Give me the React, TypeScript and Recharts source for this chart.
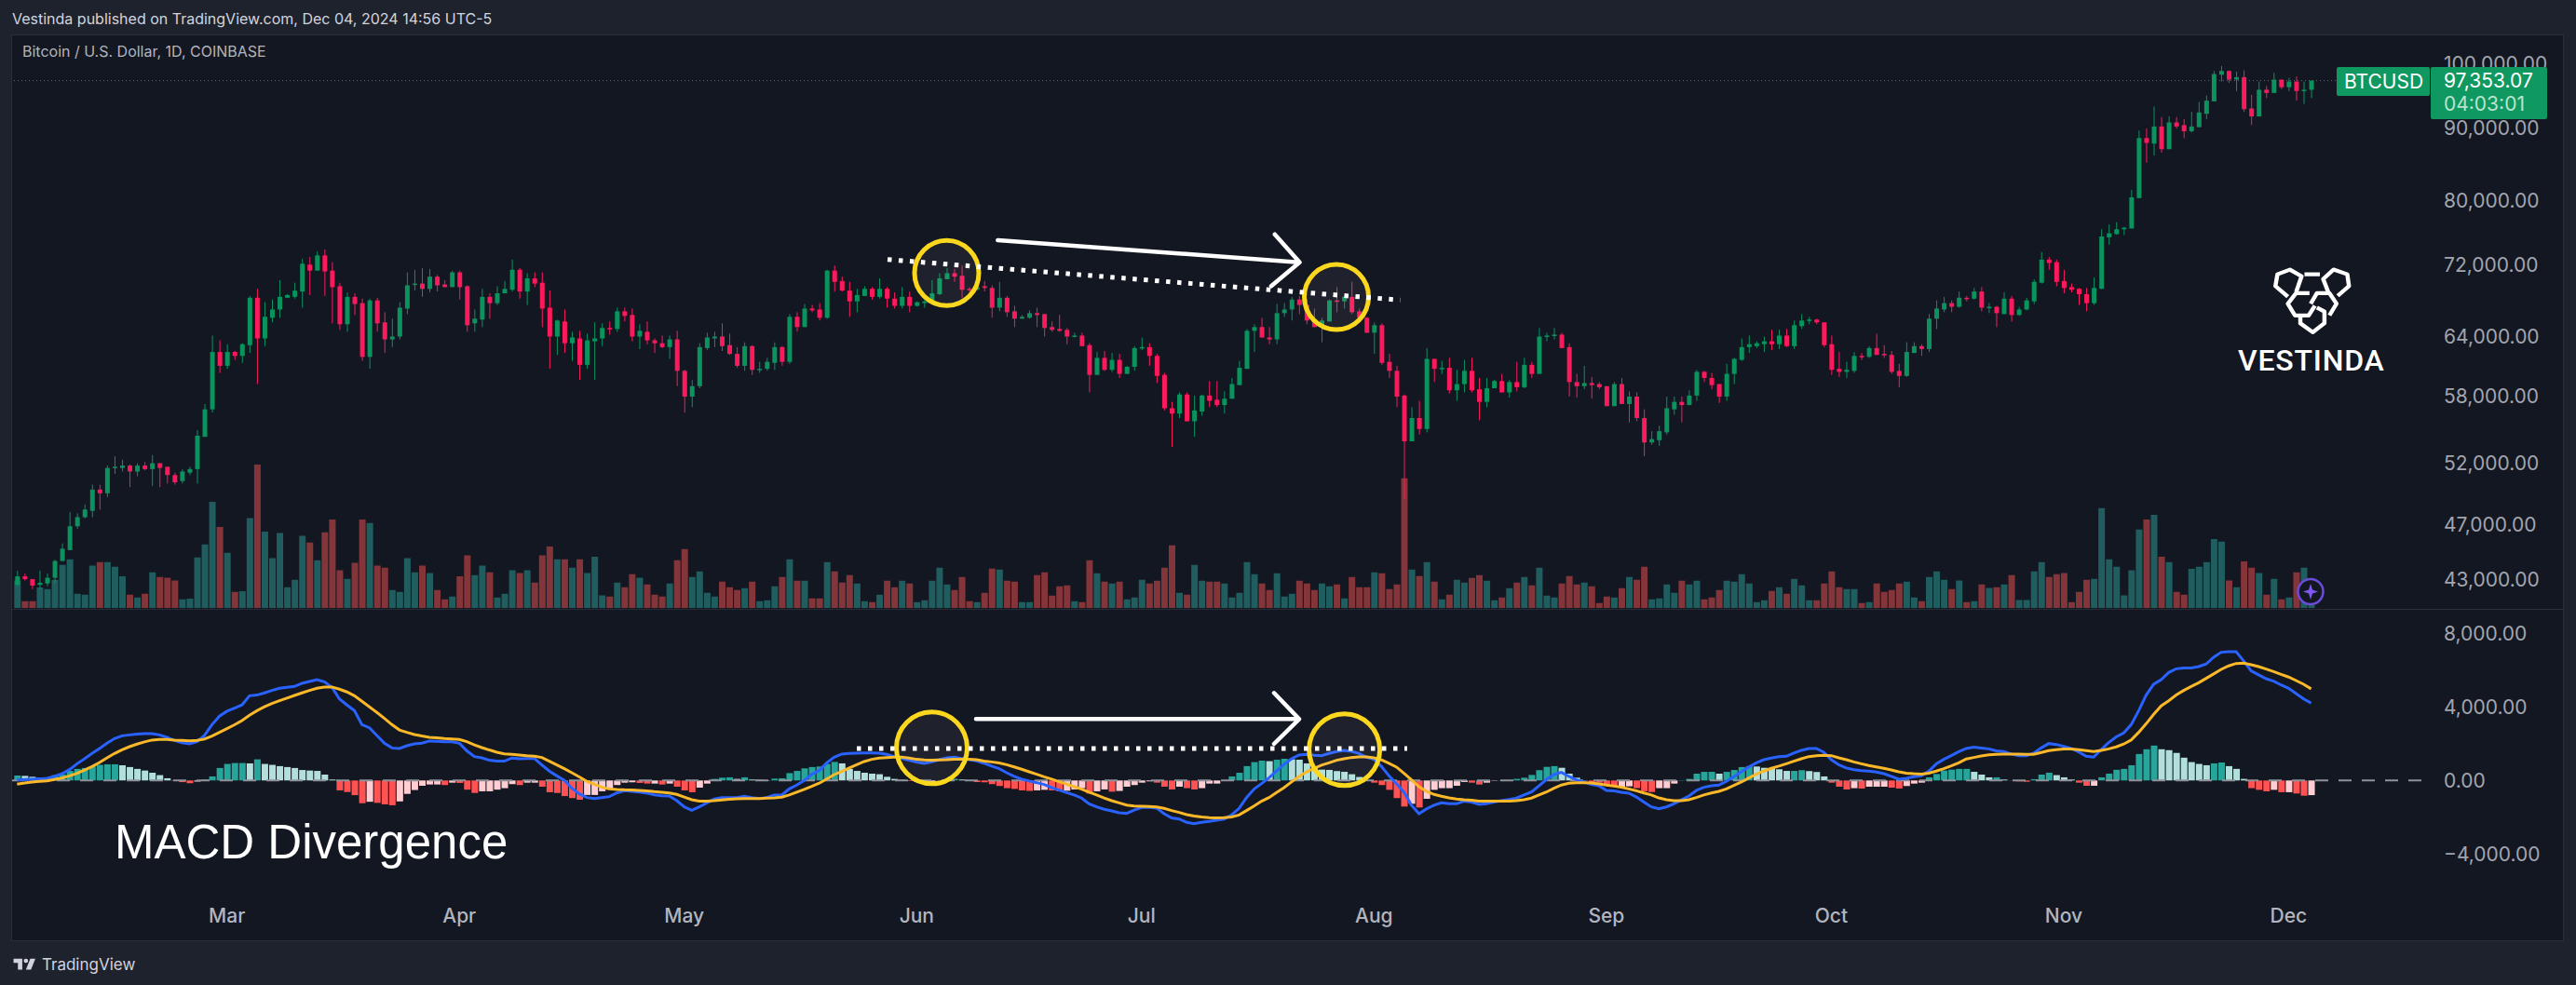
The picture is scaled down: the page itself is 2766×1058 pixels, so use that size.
import { Bar, Cell, ComposedChart, Line, ReferenceLine, XAxis, YAxis } from "recharts";

// prices in thousands of USD, one entry per day from Feb 2 to Dec 4 2024
const opens = [
  42.6,43.2,43.0,42.6,42.7,43.1,44.3,45.1,46.9,47.6,
  48.1,49.8,49.5,51.6,51.6,51.8,51.3,51.8,51.5,52.0,
  51.7,51.0,50.5,51.2,51.5,54.3,56.8,62.4,61.0,62.4,
  62.0,63.1,68.2,63.8,66.0,66.9,68.2,68.3,68.9,72.0,
  71.3,73.1,71.3,69.5,65.3,68.3,67.6,61.9,67.9,65.5,
  63.7,64.0,67.0,69.7,69.8,69.2,70.6,69.7,69.4,71.1,
  69.5,65.4,65.8,68.3,67.6,68.7,69.1,71.4,68.9,70.4,
  69.9,67.1,64.0,65.6,63.3,63.8,61.1,63.5,63.8,64.9,
  64.8,66.7,66.3,64.0,64.5,63.6,63.3,62.9,63.7,60.5,
  58.0,59.0,62.8,63.8,64.0,63.1,62.2,61.0,63.0,60.6,
  60.7,61.3,62.9,61.4,66.1,65.0,67.0,66.9,66.0,71.3,
  70.1,69.0,67.8,68.4,69.2,68.3,69.2,68.1,67.3,68.3,
  67.3,67.6,67.7,68.6,70.3,71.0,70.7,69.2,69.1,69.5,
  69.3,67.1,68.2,66.7,65.9,66.0,66.5,66.4,65.0,64.8,
  64.7,64.0,64.1,63.1,60.1,61.8,60.6,61.6,60.2,60.9,
  62.8,62.9,62.0,60.1,56.9,56.4,58.2,55.7,56.6,58.1,
  57.7,57.2,57.8,59.1,60.7,64.6,65.0,63.9,63.7,66.5,
  66.9,68.0,67.4,65.7,65.0,65.6,67.9,67.8,68.3,66.7,
  66.0,64.4,65.2,61.4,60.5,58.1,53.9,56.0,55.0,61.7,
  60.7,60.8,58.6,59.2,60.5,58.7,57.5,58.8,59.5,58.4,
  59.4,58.9,61.1,60.2,64.0,64.1,64.2,62.9,59.4,59.0,
  59.3,59.2,59.0,57.1,59.2,57.3,58.0,56.0,53.8,54.0,
  54.7,56.8,57.5,57.2,58.1,60.4,59.8,59.2,58.0,60.2,
  61.6,62.9,63.0,63.2,63.5,63.2,64.1,63.0,65.1,65.7,
  65.8,65.5,63.2,60.7,60.4,60.5,62.0,61.9,62.8,62.2,
  62.1,60.5,60.0,62.3,63.0,62.7,65.9,66.9,67.6,67.2,
  68.2,68.1,68.9,67.1,67.2,66.4,68.1,66.3,66.9,67.8,
  69.9,72.6,72.3,70.1,69.4,69.2,68.6,67.6,69.2,75.3,
  75.7,76.3,76.4,80.3,88.6,87.8,90.3,87.0,90.9,90.5,
  89.6,90.2,92.2,94.1,98.3,98.9,97.5,97.9,93.0,91.8,
  95.9,95.4,97.5,96.3,97.2,95.7,95.9,
];
const closes = [
  43.2,43.0,42.55,42.75,43.1,44.3,45.2,46.9,47.6,48.2,
  49.8,49.5,51.6,51.7,51.8,51.3,51.8,51.5,52.0,51.6,
  51.0,50.4,51.3,51.5,54.4,56.8,62.4,61.0,62.4,62.0,
  63.2,68.2,63.8,66.1,66.9,68.3,68.5,69.0,72.1,71.3,
  73.1,71.2,69.4,65.3,68.3,67.5,61.9,67.9,65.4,63.7,
  64.0,67.1,69.6,69.8,69.2,70.6,69.6,69.4,71.1,69.4,
  65.2,65.9,68.3,67.6,68.7,69.2,71.4,68.9,70.4,69.8,
  67.0,64.0,65.7,63.3,63.9,61.1,63.6,63.8,64.9,64.8,
  66.7,66.2,64.0,64.6,63.6,63.3,62.9,63.7,60.5,58.0,
  59.0,62.9,63.9,64.0,63.0,62.2,61.0,63.0,60.6,60.7,
  61.4,62.9,61.4,66.1,65.0,67.0,66.8,66.0,71.3,70.0,
  69.0,67.8,68.5,69.2,68.3,69.2,68.1,67.3,68.3,67.3,
  67.7,67.8,68.7,70.4,71.0,70.6,69.1,69.1,69.4,69.3,
  67.1,68.2,66.6,65.9,66.1,66.5,66.3,64.9,64.7,64.6,
  64.0,64.1,63.0,60.1,61.8,60.6,61.6,60.2,60.9,62.8,
  62.9,62.0,60.0,56.9,56.4,58.2,55.7,56.7,58.1,57.6,
  57.2,57.8,59.2,60.8,64.6,65.0,63.9,63.7,66.5,66.9,
  68.0,67.4,65.7,65.0,65.7,67.9,67.8,68.3,66.6,66.0,
  64.4,65.2,61.3,60.5,58.0,53.9,56.0,55.0,61.7,60.7,
  60.8,58.6,59.2,60.5,58.6,57.5,58.8,59.5,58.4,59.4,
  58.9,61.1,60.2,64.0,64.1,64.2,62.8,59.4,59.0,59.3,
  59.1,58.9,57.1,59.2,57.3,58.0,56.0,53.8,54.1,54.8,
  56.9,57.5,57.2,58.1,60.4,59.8,59.1,58.0,60.2,61.7,
  62.9,63.2,63.3,63.5,63.2,64.1,63.0,65.2,65.7,65.8,
  65.5,63.1,60.6,60.4,60.6,62.0,61.9,62.8,62.1,62.1,
  60.4,60.0,62.4,63.0,62.7,65.9,67.0,67.6,67.2,68.2,
  68.1,68.9,67.1,67.2,66.5,68.1,66.3,66.9,67.9,70.0,
  72.6,72.2,70.0,69.3,69.1,68.6,67.6,69.3,75.4,75.8,
  76.3,76.5,80.4,88.6,87.9,90.3,87.0,90.9,90.3,89.6,
  90.3,92.4,94.2,98.4,98.9,97.5,97.9,92.9,91.8,95.9,
  95.4,97.5,96.3,97.2,95.7,95.9,97.35,
];
const highs = [
  43.6,43.4,43.0,43.6,43.4,44.4,45.6,48.0,47.9,48.6,
  50.2,50.2,51.8,52.6,52.3,51.9,52.0,52.1,52.7,52.0,
  51.7,51.2,51.5,51.7,54.9,57.3,64.1,63.6,63.2,62.5,
  63.3,68.4,69.2,67.7,68.0,70.2,68.6,69.9,72.7,72.9,
  73.6,73.8,72.3,69.9,68.8,68.7,68.1,68.1,68.2,66.6,
  65.9,67.7,71.1,71.4,71.6,71.5,70.8,70.2,71.3,71.3,
  69.6,66.9,69.2,68.7,69.5,70.1,72.6,71.6,71.0,71.1,
  71.1,69.0,65.8,66.9,64.5,64.6,64.3,65.5,65.4,65.6,
  67.1,67.1,67.0,65.3,65.6,63.8,64.1,64.1,64.6,60.6,
  59.6,63.3,64.4,64.5,65.4,64.3,62.9,63.4,63.1,61.4,
  61.8,63.4,63.0,66.4,66.6,67.5,67.4,67.6,71.4,71.9,
  70.6,70.0,69.2,69.5,69.4,70.4,69.4,68.8,69.4,68.9,
  67.8,68.0,70.2,71.0,71.6,71.5,71.9,69.4,69.9,70.1,
  69.6,70.0,68.4,67.3,66.3,66.8,67.1,66.4,65.6,66.3,
  64.9,64.4,64.4,63.3,62.4,62.5,62.3,62.2,61.0,63.0,
  63.9,63.3,62.2,60.3,57.5,58.4,58.4,58.1,58.2,59.5,
  59.5,58.5,59.8,61.5,64.8,65.3,66.0,65.0,67.5,67.6,
  68.3,68.4,68.0,67.0,66.0,68.0,69.4,68.4,70.0,67.0,
  66.1,65.5,65.4,62.2,61.0,58.2,57.0,57.6,62.8,61.7,
  61.5,61.8,60.6,61.6,61.8,59.8,59.8,59.6,60.2,59.6,
  61.4,61.8,61.4,64.9,64.4,64.9,64.4,63.3,60.2,61.0,
  59.9,59.4,59.0,59.4,59.8,58.5,58.4,56.8,54.8,55.3,
  58.0,58.0,58.0,58.6,60.6,60.5,60.3,59.2,61.2,61.8,
  63.8,64.1,63.5,64.0,64.7,64.7,64.8,65.7,66.4,66.1,
  65.9,65.5,64.1,62.4,61.4,62.4,62.3,63.0,64.3,63.1,
  62.5,61.2,63.4,63.4,63.2,66.4,67.9,68.3,67.9,68.9,
  68.4,69.3,69.4,67.6,67.3,68.8,68.4,67.2,68.2,70.3,
  73.5,72.9,72.6,71.4,69.8,69.3,69.3,70.5,76.3,76.9,
  77.2,76.6,81.4,89.7,90.0,93.3,91.7,91.8,91.7,91.4,
  92.5,94.0,95.0,98.9,99.7,99.0,98.8,99.0,95.1,97.2,
  96.5,98.6,97.5,97.8,98.0,97.2,97.35,
];
const lows = [
  42.5,42.9,42.3,42.3,42.5,42.7,44.3,45.1,46.7,47.5,
  47.6,48.2,49.2,51.1,51.3,50.0,50.9,51.4,50.1,50.0,
  50.3,50.2,50.3,51.0,50.3,54.3,56.5,60.3,60.7,61.6,
  61.3,62.3,59.2,63.0,65.5,66.0,68.2,68.1,67.1,68.5,
  71.3,68.4,65.4,64.7,64.5,66.3,61.5,60.7,64.5,62.3,
  62.9,63.7,66.4,69.0,68.3,68.8,68.9,69.4,69.4,68.0,
  64.5,64.5,65.0,65.9,67.4,68.7,68.9,68.1,67.4,69.4,
  65.0,60.7,62.1,62.3,61.5,59.6,60.7,59.6,63.0,64.2,
  64.5,65.6,63.5,62.7,63.2,62.3,62.8,61.7,59.0,56.5,
  57.0,58.8,62.6,62.9,62.5,62.1,60.8,60.5,60.1,60.3,
  60.5,60.6,61.0,61.2,64.5,65.0,66.6,65.7,65.9,68.9,
  68.9,66.1,66.6,68.4,68.0,68.1,67.1,67.0,67.0,66.6,
  67.2,67.1,67.7,68.5,70.3,70.0,68.2,68.9,69.0,68.9,
  66.0,66.7,66.1,65.0,65.9,65.9,65.0,64.0,64.5,64.5,
  63.2,63.9,63.0,58.4,60.1,60.5,60.4,59.8,60.2,60.5,
  62.6,61.0,59.3,56.7,53.4,56.0,55.7,54.3,56.2,57.0,
  57.0,56.4,57.8,59.1,60.7,62.4,63.9,63.2,63.2,66.1,
  65.7,66.4,65.3,65.0,63.4,65.6,66.6,67.0,66.4,65.9,
  64.4,62.2,61.1,59.8,57.0,49.0,53.9,54.5,54.7,59.4,
  60.2,58.3,57.6,58.4,58.4,55.8,57.0,58.8,58.4,57.9,
  58.5,58.8,59.8,60.2,63.5,63.7,62.8,58.0,57.9,58.7,
  57.8,58.7,57.1,57.1,57.3,55.6,55.7,52.6,53.6,53.5,
  54.5,56.3,55.6,57.2,57.6,59.4,58.7,57.4,57.6,59.2,
  61.5,62.3,62.8,62.4,62.6,62.7,62.9,62.7,64.8,65.3,
  65.3,62.9,60.1,59.9,59.8,60.3,61.6,61.8,62.1,61.8,
  60.2,58.9,59.9,62.3,62.0,62.4,64.8,66.6,66.6,67.1,
  67.8,68.0,66.7,66.5,65.0,66.4,65.6,66.2,66.8,67.5,
  69.8,71.4,69.5,68.7,68.8,67.4,66.7,67.4,69.2,74.4,
  75.6,75.6,76.4,80.3,85.1,86.1,86.5,87.0,90.0,88.6,
  89.4,90.2,91.4,94.1,97.2,97.0,95.7,92.5,90.5,91.8,
  94.6,95.4,96.0,95.7,94.2,93.7,94.6,
];
const volumes = [
  11.8,2.9,2.9,8.8,8.1,12.1,18.5,20.9,6.1,5.7,
  18.2,19.7,19.7,17.7,13.6,5.7,4.5,6.1,15.3,13.3,
  13.0,11.8,3.7,4.0,21.7,27.3,45.6,34.8,23.7,6.9,
  7.2,38.6,61.6,32.8,21.4,32.2,8.9,12.1,31.0,28.1,
  20.5,32.5,38.0,16.2,12.5,19.4,38.0,36.5,18.2,17.3,
  7.7,6.9,21.4,15.3,18.2,15.0,7.7,3.7,4.9,13.6,
  22.6,14.1,18.2,15.3,4.5,6.1,16.2,15.0,16.2,10.9,
  22.6,26.4,20.9,20.9,17.3,20.9,15.0,22.0,5.4,4.9,
  10.9,8.9,14.5,13.0,10.1,5.7,4.9,10.5,20.5,25.3,
  13.3,15.7,6.5,4.9,11.3,8.9,7.7,8.5,11.3,2.9,
  3.3,9.3,13.3,20.9,11.7,11.7,4.1,4.1,19.7,15.7,
  10.9,14.1,10.5,2.9,2.5,5.7,11.7,8.9,11.7,10.5,
  2.5,3.3,11.7,17.3,10.1,7.7,13.3,2.9,2.5,6.5,
  16.9,16.5,11.7,11.3,2.5,2.5,14.1,15.3,5.3,9.3,
  9.7,2.9,2.5,20.5,14.9,11.3,10.5,11.3,3.7,4.5,
  12.1,10.5,11.7,17.3,26.9,6.5,5.7,18.5,11.7,11.3,
  11.3,10.5,4.5,6.5,19.7,14.5,10.5,7.7,14.9,4.9,
  6.1,11.7,10.5,7.7,10.5,9.3,10.1,4.1,13.3,8.9,
  8.9,15.3,14.9,8.1,10.1,55.7,16.5,13.7,19.7,11.3,
  3.7,5.7,12.1,10.9,12.9,14.1,11.7,3.3,4.5,8.5,
  10.9,13.3,9.7,17.3,5.3,4.5,10.5,13.7,10.1,10.9,
  9.3,2.1,4.9,4.5,8.5,13.3,12.1,17.7,3.7,4.1,
  10.1,6.5,11.7,10.1,11.7,3.7,4.5,7.7,11.7,11.3,
  14.5,10.5,2.5,3.3,7.3,8.9,6.1,12.5,9.7,3.3,
  3.3,10.5,15.7,8.9,8.1,8.1,2.1,2.5,10.5,6.9,
  7.7,10.5,11.3,4.5,2.9,13.3,15.7,12.1,8.1,11.8,
  2.5,2.9,10.1,8.6,8.9,10.1,14.1,3.4,3.4,15.7,
  19.7,13.3,14.5,15.0,2.5,6.9,12.1,12.5,42.9,20.9,
  17.7,5.4,16.2,33.7,38.0,40.0,22.0,19.7,6.9,5.7,
  16.8,17.7,19.7,29.6,28.5,11.8,8.9,20.0,17.3,15.0,
  5.7,12.5,3.7,4.5,15.3,17.3,1.2,
];
const macdLine = [
  30,50,70,85,120,220,370,590,910,1180,
  1470,1740,2030,2280,2430,2480,2530,2550,2550,2480,
  2350,2180,2060,1990,2110,2450,3040,3500,3770,3940,
  4110,4610,4650,4770,4900,5020,5070,5120,5290,5390,
  5490,5370,5070,4440,4110,3800,3040,2870,2450,2030,
  1770,1740,1890,1990,2030,2150,2130,2110,2110,2030,
  1610,1300,1230,1100,1050,1050,1220,1180,1200,1200,
  850,510,250,0,-420,-730,-930,-980,-930,-880,
  -680,-560,-590,-630,-690,-780,-830,-850,-1100,-1440,
  -1620,-1440,-1220,-1010,-930,-930,-930,-860,-930,-980,
  -930,-790,-790,-460,-250,0,340,540,960,1270,
  1440,1470,1490,1500,1500,1490,1420,1300,1200,1100,
  1000,930,1010,1130,1230,1270,1200,1130,1060,930,
  780,640,420,220,70,-30,-120,-220,-390,-520,
  -660,-790,-960,-1270,-1440,-1570,-1660,-1760,-1790,-1610,
  -1470,-1470,-1500,-1810,-2040,-2100,-2280,-2350,-2280,-2230,
  -2160,-2100,-1880,-1520,-930,-470,-170,150,510,880,
  1180,1390,1420,1370,1350,1470,1570,1640,1590,1470,
  1270,1150,760,250,-170,-640,-1350,-1810,-1550,-1350,
  -1220,-1270,-1270,-1130,-1180,-1300,-1270,-1180,-1100,-1030,
  -960,-790,-630,-300,50,320,440,220,30,-80,
  -220,-290,-540,-570,-640,-690,-900,-1180,-1440,-1540,
  -1440,-1270,-1060,-850,-540,-370,-290,-250,-50,200,
  470,740,960,1130,1220,1300,1320,1490,1640,1740,
  1740,1540,1130,850,680,590,540,510,460,370,
  220,70,120,200,250,510,900,1150,1350,1570,
  1740,1810,1770,1720,1610,1570,1440,1350,1350,1490,
  1770,2010,1960,1860,1740,1550,1320,1270,1690,2060,
  2370,2590,3040,3800,4650,5240,5490,5880,6080,6120,
  6120,6200,6340,6710,6980,7010,7010,6510,5970,5750,
  5540,5410,5200,5020,4730,4440,4220,
];
const signalLine = [
  -200,-135,-85,-50,-17,50,135,250,390,570,
  760,980,1230,1470,1670,1840,1980,2100,2200,2230,
  2230,2200,2180,2160,2180,2250,2420,2620,2820,3030,
  3260,3550,3800,4010,4190,4340,4480,4630,4770,4900,
  5020,5090,5090,4970,4820,4610,4310,4010,3700,3380,
  3040,2750,2620,2500,2420,2350,2320,2280,2260,2230,
  2110,1940,1790,1660,1540,1450,1420,1390,1350,1320,
  1250,1050,850,640,420,190,-50,-200,-370,-460,
  -490,-510,-520,-540,-570,-610,-640,-680,-760,-900,
  -1050,-1120,-1130,-1100,-1060,-1030,-1000,-980,-980,-980,
  -960,-950,-910,-790,-640,-490,-320,-150,80,320,
  490,680,860,1030,1150,1220,1250,1270,1270,1220,
  1150,1120,1100,1120,1130,1150,1150,1150,1130,1060,
  1010,950,860,740,610,470,340,200,70,-70,
  -200,-340,-470,-640,-790,-950,-1100,-1220,-1340,-1390,
  -1400,-1420,-1440,-1520,-1640,-1740,-1860,-1940,-1990,-2030,
  -2040,-2030,-1990,-1880,-1640,-1390,-1130,-930,-660,-390,
  -80,220,470,660,830,960,1100,1180,1250,1280,
  1280,1230,1120,930,730,390,30,-340,-590,-760,
  -860,-950,-1010,-1050,-1080,-1120,-1130,-1130,-1130,-1120,
  -1100,-1050,-960,-790,-630,-420,-250,-150,-120,-120,
  -135,-190,-250,-300,-370,-460,-560,-680,-790,-950,
  -1050,-1100,-1100,-1050,-930,-790,-680,-590,-460,-270,
  -85,135,340,510,660,780,910,1050,1180,1300,
  1350,1370,1350,1230,1130,1010,910,810,740,660,
  570,470,400,370,350,400,510,640,790,960,
  1170,1250,1330,1400,1420,1430,1440,1440,1420,1420,
  1520,1620,1670,1710,1710,1670,1620,1570,1640,1720,
  1830,1980,2200,2620,3090,3600,4060,4340,4650,4900,
  5120,5320,5560,5800,6050,6240,6370,6390,6300,6200,
  6070,5930,5780,5630,5440,5240,4990,
];
const histogram = [
  270,250,200,150,170,290,340,520,630,680,
  770,850,880,880,830,730,630,540,420,290,
  120,-30,-90,-150,-60,50,220,680,900,950,
  950,930,1150,900,850,780,730,680,570,540,
  520,320,50,-540,-630,-800,-1240,-1160,-1220,-1300,
  -1350,-1140,-730,-520,-290,-220,-220,-250,-120,-135,
  -500,-680,-590,-590,-500,-420,-200,-250,-120,-120,
  -340,-640,-680,-850,-960,-1050,-790,-790,-590,-500,
  -250,-120,-100,-135,-170,-170,-220,-170,-340,-540,
  -640,-390,-170,85,150,170,85,170,50,35,
  15,100,120,400,520,660,730,760,900,1010,
  930,630,520,420,370,340,200,85,35,-35,
  -85,-120,-85,10,35,85,50,-5,-85,-100,
  -200,-300,-420,-460,-540,-570,-540,-510,-540,-590,
  -560,-490,-420,-710,-590,-490,-610,-570,-340,-250,
  -120,-50,-120,-340,-490,-340,-420,-490,-420,-170,
  -170,15,220,420,780,1000,1080,1050,1130,1180,
  1150,1130,930,730,590,575,510,470,340,190,
  5,-120,-250,-510,-960,-1420,-1270,-1470,-1000,-510,
  -420,-420,-290,-85,-120,-220,-120,-20,15,-35,
  85,150,300,560,740,780,690,370,150,15,
  -85,-120,-200,-340,-340,-320,-420,-590,-630,-420,
  -420,-170,15,85,370,470,470,370,470,570,
  730,780,760,690,680,610,520,520,560,510,
  460,220,-120,-340,-490,-420,-440,-340,-340,-340,
  -390,-440,-300,-170,-120,170,350,540,590,630,
  630,470,320,170,170,50,5,-50,-70,70,
  320,420,290,170,50,-120,-290,-290,170,370,
  580,630,830,1440,1700,1900,1700,1650,1500,1240,
  1000,900,830,930,980,780,630,85,-420,-510,
  -590,-510,-640,-640,-710,-830,-800,
];
const priceTicks = [43, 47, 52, 58, 64, 72, 80, 90, 100];
const macdTicks = [-4000, 0, 4000, 8000];
const monthTicks = [28, 59, 89, 120, 150, 181, 212, 242, 273, 303];
const monthNames = ["Mar", "Apr", "May", "Jun", "Jul", "Aug", "Sep", "Oct", "Nov", "Dec"];

const GREEN = "#0b935d";
const RED = "#fb1a5c";
const PANE = "#131722";
const FRAME = "#1e222d";
const FONT = "Inter, sans-serif";

const rows = closes.map((close, i) => ({
  idx: i, open: opens[i], close, high: highs[i], low: lows[i],
  volume: volumes[i], macd: macdLine[i], signal: signalLine[i], hist: histogram[i],
}));

// same band layout in every pane so candles, volume and histogram line up
const xPadding = { left: 1.3, right: 114.4 };

// the bar spans low..high on the log axis, open and close are placed inside that span
function Candle({ x, y, width, height, payload }: any) {
  const { open, close, high, low } = payload;
  const span = Math.log(high) - Math.log(low);
  const at = (v: number) => y + (height * (Math.log(high) - Math.log(v))) / span;
  const top = at(Math.max(open, close));
  const bottom = at(Math.min(open, close));
  const color = close >= open ? GREEN : RED;
  return (
    <g>
      <rect x={x + width / 2 - 0.5} y={y} width={1} height={height} fill={color} />
      <rect x={x} y={top} width={width} height={Math.max(bottom - top, 1.5)} fill={color} />
    </g>
  );
}

function histColor(i: number) {
  const v = histogram[i];
  const prev = i > 0 ? histogram[i - 1] : 0;
  if (v >= 0) return v >= prev ? "#26a69a" : "#b2dfdb";
  return v < prev ? "#ff5252" : "#ffcdd2";
}

const money = (v: number) => v.toLocaleString("en-US", { minimumFractionDigits: 2, maximumFractionDigits: 2 });
const tickStyle = { fill: "#a2a5ae", fontSize: 21, fontFamily: FONT };

function VolumeChart() {
  return (
    <ComposedChart width={2766} height={653} data={rows} margin={{ left: 13, right: 166, top: 38, bottom: 0 }}>
      <XAxis dataKey="idx" hide scale="band" padding={xPadding} />
      <YAxis hide domain={[0, 246]} />
      <Bar dataKey="volume" barSize={7} isAnimationActive={false}>
        {rows.map((r) => (
          <Cell key={r.idx} fill={r.close >= r.open ? "#1f5d5f" : "#843539"} />
        ))}
      </Bar>
    </ComposedChart>
  );
}

function PriceChart() {
  return (
    <ComposedChart width={2766} height={653} data={rows} margin={{ left: 13, right: 14, top: 38, bottom: 0 }}>
      <XAxis dataKey="idx" hide scale="band" padding={xPadding} />
      <YAxis
        orientation="right" width={152} scale="log" domain={[41.02, 104.84]} allowDataOverflow
        ticks={priceTicks} interval={0} tick={tickStyle} tickLine={false} axisLine={false} tickMargin={18}
        tickFormatter={(v: number) => money(v * 1000)}
      />
      <ReferenceLine y={97.35} stroke="#16906a" strokeDasharray="1 3" />
      <Bar dataKey={(d: any) => [d.low, d.high]} barSize={5} shape={Candle} isAnimationActive={false} />
    </ComposedChart>
  );
}

function MacdChart() {
  return (
    <ComposedChart width={2766} height={355} data={rows} margin={{ left: 13, right: 14, top: 0, bottom: 0 }}>
      <XAxis
        dataKey="idx" scale="band" padding={xPadding} height={40} ticks={monthTicks} interval={0}
        tick={{ fill: "#b2b5be", fontSize: 21, fontFamily: FONT, fontWeight: 500 }} tickLine={false} axisLine={false}
        tickMargin={0} tickFormatter={(v: number) => monthNames[monthTicks.indexOf(v)]}
      />
      <YAxis
        orientation="right" width={152} domain={[-6677, 9293]} allowDataOverflow ticks={macdTicks} interval={0}
        tick={tickStyle} tickLine={false} axisLine={false} tickMargin={18}
        tickFormatter={(v: number) => (v < 0 ? "\u2212" + money(-v) : money(v))}
      />
      <Bar dataKey="hist" barSize={7} isAnimationActive={false}>
        {rows.map((r) => (
          <Cell key={r.idx} fill={histColor(r.idx)} />
        ))}
      </Bar>
      <ReferenceLine y={0} stroke="#8f929b" strokeWidth={2} strokeDasharray="14 11" />
      <Line dataKey="macd" stroke="#2962ff" strokeWidth={3} dot={false} isAnimationActive={false} />
      <Line dataKey="signal" stroke="#fbb829" strokeWidth={3} dot={false} isAnimationActive={false} />
    </ComposedChart>
  );
}

// drawn on top of the chart: rings, arrows, watermark, price tag
function Annotations() {
  const ring = { fill: "rgba(255,255,255,0.05)", stroke: "#fbd71e", strokeWidth: 5 };
  const white = { fill: "none", stroke: "#fff", strokeWidth: 4.5, strokeLinecap: "round" as const, strokeLinejoin: "round" as const };
  const dots = { stroke: "#fff", strokeWidth: 5, strokeDasharray: "4.5 7.5" };
  return (
    <svg width={2766} height={1058} style={{ position: "absolute", left: 0, top: 0 }}>
      <ellipse cx={1016.5} cy={293.3} rx={34.5} ry={35} {...ring} />
      <ellipse cx={1435} cy={319} rx={34.5} ry={35} {...ring} />
      <ellipse cx={1000.5} cy={803.3} rx={38} ry={38.5} {...ring} />
      <ellipse cx={1443.6} cy={805.3} rx={38} ry={38.5} {...ring} />
      <line x1={953} y1={278.7} x2={1503.6} y2={322.3} {...dots} />
      <line x1={920} y1={804} x2={1511} y2={804} {...dots} />
      <path d="M1071.4 258L1394.2 281.7M1368.8 251.7L1395.5 281.7L1365 307.3" {...white} />
      <path d="M1048 772.3L1394 772.3M1368 744.3L1395 772.3L1368 799" {...white} />

      <text x={13} y={26} fill="#d1d4dc" fontSize={16} fontFamily={FONT}>
        Vestinda published on TradingView.com, Dec 04, 2024 14:56 UTC-5
      </text>
      <text x={24} y={61} fill="#b2b5be" fontSize={16} fontFamily={FONT}>
        Bitcoin / U.S. Dollar, 1D, COINBASE
      </text>
      <text x={123} y={922} fill="#fff" fontSize={51} fontFamily="'Liberation Sans', sans-serif">
        MACD Divergence
      </text>

      {/* watermark, hexagon strokes */}
      <g transform="translate(2066,0) scale(0.4464,0.4209)" fill="none" stroke="#fff" strokeWidth={10} strokeLinejoin="round">
        <path d="M875 757L845 730L850 700L880 688L908 705L895 745" />
        <path d="M995 755L1022 730L1018 700L985 688L960 712L972 745" />
        <path d="M915 700L952 700" />
        <path d="M927 748L895 748L875 775L892 805L925 805L940 780" />
        <path d="M930 775L945 748L975 748L992 775L975 805" />
        <path d="M905 805L905 825L935 848L963 825L963 795L945 785" />
      </g>
      <text x={2403} y={398} fill="#fff" fontSize={32} fontWeight={500} letterSpacing={0.8} fontFamily="Roboto, sans-serif">
        VESTINDA
      </text>

      <rect x={2509} y={72} width={100} height={31} rx={2} fill="#0f9960" />
      <text x={2517} y={95} fill="#fff" fontSize={21} fontFamily={FONT}>BTCUSD</text>
      <rect x={2610} y={72} width={125} height={56} rx={2} fill="#0f9960" />
      <text x={2624} y={94} fill="#fff" fontSize={21} fontFamily={FONT}>97,353.07</text>
      <text x={2624} y={119} fill="#b9e3d0" fontSize={21} fontFamily={FONT}>04:03:01</text>

      <circle cx={2481} cy={635.5} r={13.5} fill={PANE} stroke="#6a4cdb" strokeWidth={2.5} />
      <path d="M2481 627L2483 633.5L2489 635.5L2483 637.5L2481 644L2479 637.5L2473 635.5L2479 633.5Z" fill="#7e57f5" />

      {/* TradingView mark */}
      <g transform="translate(13,1025) scale(0.78)" fill="#d1d4dc">
        <path d="M14 6H2v6h6v9h6V6Zm12 15h-7l6-15h7l-6 15Zm-7-9a3 3 0 1 0 0-6 3 3 0 0 0 0 6Z" />
      </g>
      <text x={45} y={1042} fill="#d1d4dc" fontSize={17} fontFamily={FONT}>TradingView</text>
    </svg>
  );
}

export default function App() {
  const layer = { position: "absolute" as const, left: 0 };
  return (
    <div style={{ position: "absolute", left: 0, top: 0, width: 2766, height: 1058, background: FRAME, overflow: "hidden" }}>
      <div style={{ ...layer, left: 13, top: 38, width: 2739, height: 972, background: PANE, outline: "1px solid #2a2e39" }} />
      <div style={{ ...layer, left: 13, top: 654, width: 2739, height: 1, background: "#2a2e39" }} />
      <div style={{ ...layer, top: 0 }}><VolumeChart /></div>
      <div style={{ ...layer, top: 0 }}><PriceChart /></div>
      <div style={{ ...layer, top: 655 }}><MacdChart /></div>
      <Annotations />
    </div>
  );
}
